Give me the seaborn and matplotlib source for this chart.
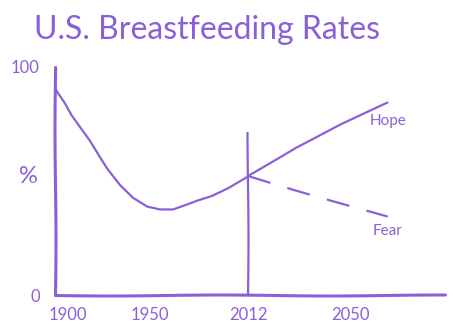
import numpy as np
import pandas as pd
import matplotlib
matplotlib.use("Agg")
import matplotlib.pyplot as plt
from matplotlib.transforms import ScaledTranslation
import seaborn as sns

# ---- data ----
hist_years = [1900, 1901.6, 1905.3, 1908.9, 1918.4, 1927.4, 1934.2, 1941, 1948.4,
              1956.3, 1964.6, 1973.4, 1979.7, 1989.2, 1999.4, 2012]
hist_rate = [90.8, 88.6, 84.2, 78.9, 68, 55.7, 48.2, 42.5, 38.6,
             37.3, 37.3, 39.5, 41.2, 43.4, 46.9, 52.2]
hope_years = [2012, 2030, 2046, 2064]
hope_rate = [52.2, 64.9, 74.6, 84.2]
fear_years = [2012, 2064]
fear_rate = [52.2, 34.2]
now_year = 2012
now_line_top = 71.5
x_ticks = [1900, 1950, 2012, 2050]
x_tick_labels = ["1900", "1950", "2012", "2050"]
y_ticks = [0, 100]
y_tick_labels = ["0", "100"]
title = "U.S. Breastfeeding Rates"

PURPLE = "#8a60d8"

sns.set_theme(style="white")
plt.rcParams["font.family"] = ["Lato", "DejaVu Sans"]
plt.rcParams["path.sketch"] = (0.5, 220, 1.0)

fig = plt.figure(figsize=(4.58, 3.26), dpi=100)
ax = fig.add_axes([55 / 458, 31 / 326, 390 / 458, 228 / 326])

# hand-drawn, unevenly spaced year axis
knot_years = [1800, 1900, 1950, 2012, 2050, 2200]
knot_pos = [-135, 55, 150, 248, 350, 752]


def fwd(x):
    return np.interp(x, knot_years, knot_pos)


def inv(p):
    return np.interp(p, knot_pos, knot_years)


ax.set_xscale("function", functions=(fwd, inv))

hist = pd.DataFrame({"year": hist_years, "rate": hist_rate})
hope = pd.DataFrame({"year": hope_years, "rate": hope_rate})
fear = pd.DataFrame({"year": fear_years, "rate": fear_rate})

sns.lineplot(data=hist, x="year", y="rate", ax=ax, color=PURPLE, lw=1.6,
             solid_joinstyle="round")
sns.lineplot(data=hope, x="year", y="rate", ax=ax, color=PURPLE, lw=1.6,
             solid_joinstyle="round")
sns.lineplot(data=fear, x="year", y="rate", ax=ax, color=PURPLE, lw=1.6,
             dashes=False, linestyle=(0, (10.5, 8)))
ax.vlines(now_year, 0, now_line_top, color=PURPLE, lw=1.6)

ax.set_xlim(1900, 2085.4)
ax.set_ylim(0, 100)

for side in ["top", "right"]:
    ax.spines[side].set_visible(False)
for side in ["left", "bottom"]:
    ax.spines[side].set_color(PURPLE)
    ax.spines[side].set_linewidth(2.2)
    ax.spines[side].set_capstyle("round")

ax.set_xticks(x_ticks)
ax.set_xticklabels(x_tick_labels)
ax.set_yticks(y_ticks)
ax.set_yticklabels(y_tick_labels)
ax.tick_params(axis="x", length=0, pad=9, labelsize=12, labelcolor=PURPLE)
ax.tick_params(axis="y", length=0, pad=11, labelsize=12, labelcolor=PURPLE)
lab0 = ax.get_xticklabels()[0]
lab0.set_transform(lab0.get_transform() + ScaledTranslation(13 / 100, 0, fig.dpi_scale_trans))

ax.set_xlabel("")
ax.set_ylabel("%", rotation=0, fontsize=17, color=PURPLE, va="center", ha="center")
ax.yaxis.set_label_coords(-0.069, 0.52)

ax.text(hope_years[-1], hope_rate[-1] - 8, "Hope", color=PURPLE, fontsize=11,
        ha="center", va="center")
ax.text(fear_years[-1], fear_rate[-1] - 6, "Fear", color=PURPLE, fontsize=11,
        ha="center", va="center")

fig.text(207 / 458, 1 - 30 / 326, title, color=PURPLE, fontsize=23,
         ha="center", va="center")

fig.savefig("out.png", dpi=100, facecolor="white")
